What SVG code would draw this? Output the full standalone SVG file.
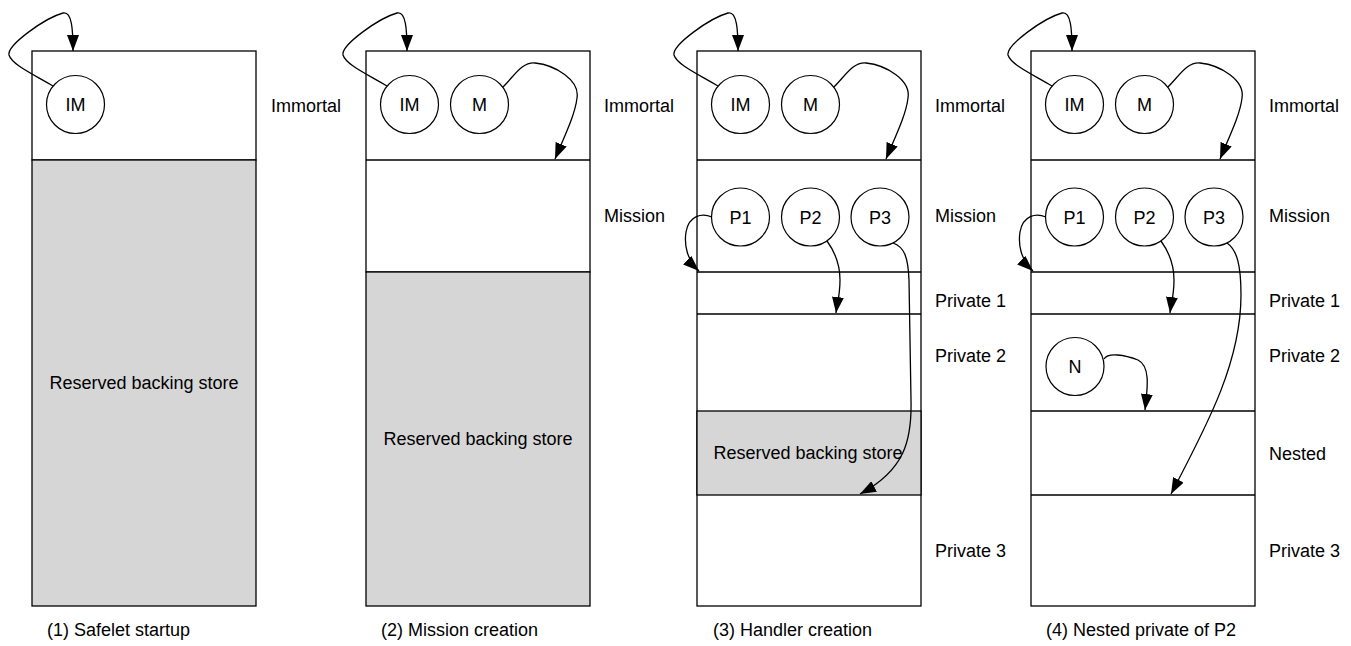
<svg xmlns="http://www.w3.org/2000/svg" width="1351" height="646" viewBox="0 0 1351 646">
<style>
.box{fill:#fff;stroke:#000;stroke-width:1.3}
.gray{fill:#d6d6d6;stroke:#000;stroke-width:1.3}
.sep{stroke:#000;stroke-width:1.3}
.node{fill:#fff;stroke:#000;stroke-width:1.2}
.t{font-family:"Liberation Sans",Arial,sans-serif;font-size:18px;fill:#000}
.c{text-anchor:middle}
.conn{fill:none;stroke:#000;stroke-width:1.3;marker-end:url(#ah)}
</style>
<defs>
<marker id="ah" markerUnits="userSpaceOnUse" markerWidth="16" markerHeight="12" refX="16" refY="6" orient="auto">
<path d="M0,0 L16,6 L0,12 Z" fill="#000"/>
</marker>
</defs>
<rect width="1351" height="646" fill="#fff"/>

<!-- Column 1 -->
<g id="col1">
<rect class="box" x="32" y="51" width="224" height="109"/>
<rect class="gray" x="32" y="160" width="224" height="446"/>
<text class="t c" x="144" y="389">Reserved backing store</text>
<text class="t" x="271" y="112">Immortal</text>
<text class="t" x="47" y="636">(1) Safelet startup</text>
</g>
<g id="col1-IM"><circle class="node" cx="75.5" cy="104.5" r="29"/><text class="t c" x="75.5" y="111">IM</text></g>

<!-- Column 2 -->
<g id="col2">
<rect class="box" x="366" y="51" width="224" height="221"/>
<line class="sep" x1="366" y1="160" x2="590" y2="160"/>
<rect class="gray" x="366" y="272" width="224" height="334"/>
<text class="t c" x="478" y="445">Reserved backing store</text>
<text class="t" x="604" y="112">Immortal</text>
<text class="t" x="604" y="222">Mission</text>
<text class="t" x="381" y="636">(2) Mission creation</text>
</g>
<g id="col2-IM"><circle class="node" cx="409.5" cy="104.5" r="29"/><text class="t c" x="409.5" y="111">IM</text></g>
<g id="col2-M"><circle class="node" cx="479.5" cy="104.5" r="29"/><text class="t c" x="479.5" y="111">M</text></g>

<!-- Column 3 -->
<g id="col3">
<rect class="box" x="697" y="51" width="224" height="555"/>
<rect class="gray" x="697" y="411" width="224" height="84"/>
<line class="sep" x1="697" y1="160" x2="921" y2="160"/>
<line class="sep" x1="697" y1="272" x2="921" y2="272"/>
<line class="sep" x1="697" y1="314" x2="921" y2="314"/>
<text class="t c" x="808" y="459">Reserved backing store</text>
<text class="t" x="935" y="112">Immortal</text>
<text class="t" x="935" y="222">Mission</text>
<text class="t" x="935" y="307">Private 1</text>
<text class="t" x="935" y="362">Private 2</text>
<text class="t" x="935" y="557">Private 3</text>
<text class="t" x="713" y="636">(3) Handler creation</text>
</g>
<g id="col3-IM"><circle class="node" cx="740.5" cy="104.5" r="29"/><text class="t c" x="740.5" y="111">IM</text></g>
<g id="col3-M"><circle class="node" cx="810.5" cy="104.5" r="29"/><text class="t c" x="810.5" y="111">M</text></g>
<g id="col3-P1"><circle class="node" cx="740.5" cy="217" r="29"/><text class="t c" x="740.5" y="223.5">P1</text></g>
<g id="col3-P2"><circle class="node" cx="810.5" cy="217" r="29"/><text class="t c" x="810.5" y="223.5">P2</text></g>
<g id="col3-P3"><circle class="node" cx="880" cy="217" r="29"/><text class="t c" x="880" y="223.5">P3</text></g>

<!-- Column 4 -->
<g id="col4">
<rect class="box" x="1031" y="51" width="224" height="555"/>
<line class="sep" x1="1031" y1="160" x2="1255" y2="160"/>
<line class="sep" x1="1031" y1="272" x2="1255" y2="272"/>
<line class="sep" x1="1031" y1="314" x2="1255" y2="314"/>
<line class="sep" x1="1031" y1="411" x2="1255" y2="411"/>
<line class="sep" x1="1031" y1="495" x2="1255" y2="495"/>
<text class="t" x="1269" y="112">Immortal</text>
<text class="t" x="1269" y="222">Mission</text>
<text class="t" x="1269" y="307">Private 1</text>
<text class="t" x="1269" y="362">Private 2</text>
<text class="t" x="1269" y="460">Nested</text>
<text class="t" x="1269" y="557">Private 3</text>
<text class="t" x="1046" y="636">(4) Nested private of P2</text>
</g>
<g id="col4-IM"><circle class="node" cx="1074.5" cy="104.5" r="29"/><text class="t c" x="1074.5" y="111">IM</text></g>
<g id="col4-M"><circle class="node" cx="1144.5" cy="104.5" r="29"/><text class="t c" x="1144.5" y="111">M</text></g>
<g id="col4-P1"><circle class="node" cx="1074.5" cy="217" r="29"/><text class="t c" x="1074.5" y="223.5">P1</text></g>
<g id="col4-P2"><circle class="node" cx="1144.5" cy="217" r="29"/><text class="t c" x="1144.5" y="223.5">P2</text></g>
<g id="col4-P3"><circle class="node" cx="1214" cy="217" r="29"/><text class="t c" x="1214" y="223.5">P3</text></g>
<g id="col4-N"><circle class="node" cx="1075" cy="366.5" r="29"/><text class="t c" x="1075" y="373">N</text></g>

<!-- Connectors -->
<g id="connectors">
<path class="conn" d="M53,86 C35,75 12,65 9,55 C7,45 45,18 63,13 C72,11 73,30 73,51"/>

<path class="conn" d="M387,86 C369,75 346,65 343,55 C341,45 379,18 397,13 C406,11 407,30 407,51"/>
<path class="conn" d="M503,87 C515,75 522,62 535,63 C555,65 580,80 577,98 C575,115 565,135 555,159"/>

<path class="conn" d="M718,86 C700,75 677,65 674,55 C672,45 710,18 728,13 C737,11 738,30 738,51"/>
<path class="conn" d="M834,87 C846,75 853,62 866,63 C886,65 911,80 908,98 C906,115 896,135 886,159"/>
<path class="conn" d="M712,217 C702,213 689,215 686,232 C684,245 687,260 699,271"/>
<path class="conn" d="M827,241 C835,252 840,265 840,280 C840,295 837,305 836,313"/>
<path class="conn" d="M893,243 C904,247 908,256 909,280 L911,400 C912,440 905,470 860,494"/>

<path class="conn" d="M1052,86 C1034,75 1011,65 1008,55 C1006,45 1044,18 1062,13 C1071,11 1072,30 1072,51"/>
<path class="conn" d="M1168,87 C1180,75 1187,62 1200,63 C1220,65 1245,80 1242,98 C1240,115 1230,135 1220,159"/>
<path class="conn" d="M1046,217 C1036,213 1023,215 1020,232 C1018,245 1021,260 1033,271"/>
<path class="conn" d="M1161,241 C1169,252 1174,265 1174,280 C1174,295 1171,305 1170,313"/>
<path class="conn" d="M1227,243 C1237,250 1241,265 1241,295 C1241,360 1210,420 1171,494"/>
<path class="conn" d="M1104,359 C1108,352 1125,355 1138,360 C1150,366 1148,385 1145,410"/>
</g>
</svg>
